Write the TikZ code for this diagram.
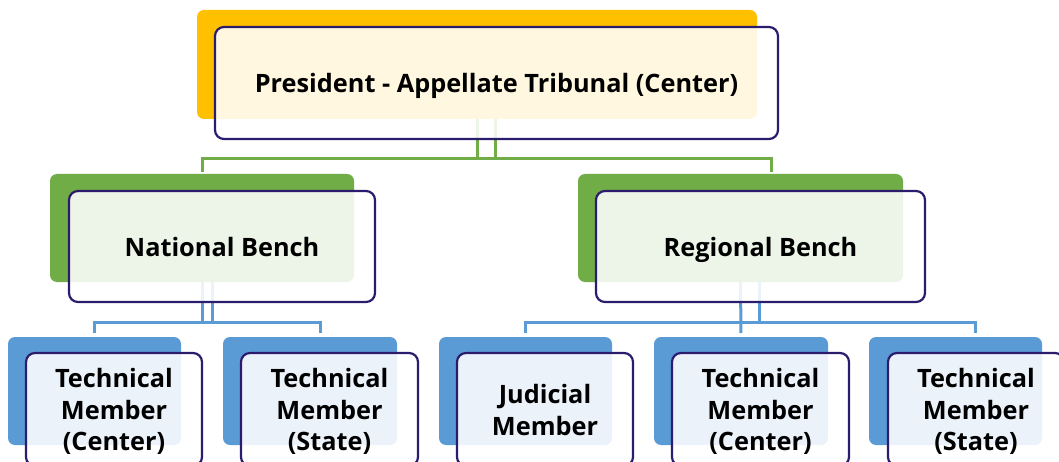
\documentclass[tikz,border=0pt]{standalone}
\usepackage{fontspec}
\setmainfont{Open Sans}
\definecolor{cyellow}{HTML}{FFC000}
\definecolor{cgreen}{HTML}{70AD47}
\definecolor{cblue}{HTML}{5B9BD5}
\definecolor{navy}{RGB}{44,28,110}
\newcommand\myup[1][26pt]{\rule{0pt}{#1}}
\begin{document}
\begin{tikzpicture}[x=1pt,y=-1pt,
  bgbox/.style={draw=none, rounded corners=7pt, inner sep=0pt, outer sep=0pt},
  fgbox/.style={draw=navy, line width=2.2pt, rounded corners=9pt, fill=white, fill opacity=0.88, text opacity=1, inner sep=0pt, outer sep=0pt, align=center, font=\bfseries\fontsize{25.3}{31.5}\selectfont},
  gline/.style={draw=cgreen, line width=3pt},
  bline/.style={draw=cblue, line width=3pt}]
\fill[white] (0,0) rectangle (1059,462);
\clip (0,0) rectangle (1059,462);
% coloured back rectangles
\node[bgbox, fill=cyellow, minimum width=560pt, minimum height=109pt] (pT) at (477,64.5) {};
\node[bgbox, fill=cgreen, minimum width=304pt, minimum height=108pt] (pN) at (202,228) {};
\node[bgbox, fill=cgreen, minimum width=325pt, minimum height=108pt] (pR) at (740.5,228) {};
\node[bgbox, fill=cblue, minimum width=173pt, minimum height=108pt] (pB1) at (94.5,391) {};
\node[bgbox, fill=cblue, minimum width=174pt, minimum height=108pt] (pB2) at (310,391) {};
\node[bgbox, fill=cblue, minimum width=173pt, minimum height=108pt] (pB3) at (525.5,391) {};
\node[bgbox, fill=cblue, minimum width=174pt, minimum height=108pt] (pB4) at (741,391) {};
\node[bgbox, fill=cblue, minimum width=173pt, minimum height=108pt] (pB5) at (955.5,391) {};
\coordinate (gbar) at (0,159);
\coordinate (bbar) at (0,322);
% green connectors
\draw[gline] (pT.south) -- (pT.south |- gbar);
\draw[gline, shorten >=2pt] ([xshift=18pt]pT.south) -- ([xshift=18pt]pT.south |- gbar) -| (pN.north);
\draw[gline, shorten >=2pt] (pT.south |- gbar) -| ([xshift=30.5pt]pR.north);
% blue connectors (national)
\draw[bline] (pN.south) -- (pN.south |- bbar);
\draw[bline, shorten >=4pt] ([xshift=10pt]pN.south) -- ([xshift=10pt]pN.south |- bbar) -| (pB1.north);
\draw[bline, shorten >=4pt] (pN.south |- bbar) -| ([xshift=10pt]pB2.north);
% blue connectors (regional)
\draw[bline, shorten >=4pt] (pR.south) -- (pB4.north);
\draw[bline] ([xshift=18.5pt]pR.south) -- ([xshift=18.5pt]pR.south |- bbar);
\draw[bline, shorten >=4pt] (pR.south |- bbar) -| (pB3.north);
\draw[bline, shorten >=4pt] (pR.south |- bbar) -| ([xshift=19.5pt]pB5.north);
% outlined text boxes
\node[fgbox, minimum width=563pt, minimum height=112pt] (T) at (496.5,83) {\myup President - Appellate Tribunal (Center)};
\node[fgbox, minimum width=306pt, minimum height=111pt] (N) at (222,246.5) {\myup[20pt]National Bench};
\node[fgbox, minimum width=329pt, minimum height=111pt] (R) at (760.5,246.5) {\myup[26pt]Regional Bench};
\node[fgbox, minimum width=176pt, minimum height=113pt] (B1) at (114,409.5) {\myup[23pt]Technical\\Member\\(Center)};
\node[fgbox, minimum width=177pt, minimum height=113pt] (B2) at (329.5,409.5) {\myup[23pt]Technical\\Member\\(State)};
\node[fgbox, minimum width=176pt, minimum height=113pt] (B3) at (545,409.5) {\myup[20pt]Judicial\\Member};
\node[fgbox, minimum width=177pt, minimum height=113pt] (B4) at (760.5,409.5) {\myup[23pt]Technical\\Member\\(Center)};
\node[fgbox, minimum width=176pt, minimum height=113pt] (B5) at (976,409.5) {\myup[23pt]Technical\\Member\\(State)};
\end{tikzpicture}
\end{document}
